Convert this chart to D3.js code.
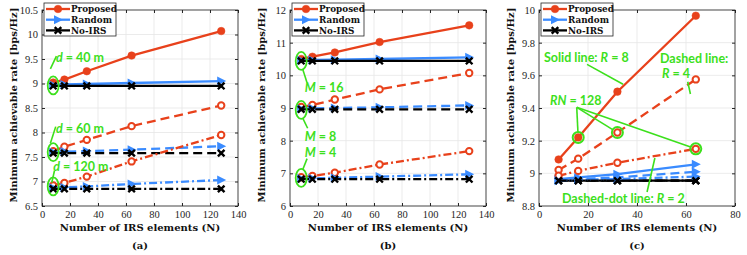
<!DOCTYPE html>
<html>
<head>
<meta charset="utf-8">
<script src="https://cdn.jsdelivr.net/npm/d3@7"></script>
<style>
  body { margin: 0; background: #fff; }
  svg { display: block; }
  .axis text { font-family: "Liberation Serif", serif; font-size: 10.5px; fill: #262626; }
  .axis path, .axis line { stroke: #262626; }
  .lbl { font-family: "DejaVu Serif", serif; font-weight: bold; font-size: 10px; fill: #111; }
  .leg { font-family: "DejaVu Serif", serif; font-weight: bold; font-size: 8.8px; fill: #111; }
  .note { font-family: Lato, sans-serif; font-weight: bold; font-size: 12.5px; fill: #3ce01c; }
</style>
</head>
<body>
<div id="chart"></div>
<script>
// ---- data ----
var nAB = [8, 16, 32, 64, 128];
var nC = [8, 16, 32, 64];

// (a) distance d
var propD40 = [9.02, 9.08, 9.25, 9.57, 10.07];
var randD40 = [8.97, 8.98, 8.99, 9.01, 9.05];
var noD40 = [8.95, 8.95, 8.95, 8.95, 8.95];
var propD60 = [7.62, 7.71, 7.85, 8.13, 8.55];
var randD60 = [7.60, 7.61, 7.62, 7.65, 7.72];
var noD60 = [7.58, 7.58, 7.58, 7.58, 7.58];
var propD120 = [6.92, 6.97, 7.10, 7.41, 7.95];
var randD120 = [6.87, 6.88, 6.90, 6.95, 7.03];
var noD120 = [6.85, 6.85, 6.85, 6.85, 6.85];

// (b) antennas M
var propM16 = [10.50, 10.57, 10.70, 11.02, 11.53];
var randM16 = [10.46, 10.47, 10.48, 10.50, 10.55];
var noM16 = [10.44, 10.44, 10.44, 10.44, 10.44];
var propM8 = [9.03, 9.09, 9.26, 9.57, 10.07];
var randM8 = [8.98, 8.99, 9.00, 9.02, 9.08];
var noM8 = [8.96, 8.96, 8.96, 8.96, 8.96];
var propM4 = [6.88, 6.92, 7.02, 7.27, 7.68];
var randM4 = [6.84, 6.85, 6.86, 6.90, 6.97];
var noM4 = [6.82, 6.82, 6.82, 6.82, 6.82];

// (c) R
var propR8 = [9.085, 9.22, 9.50, 9.965];
var propR4 = [9.02, 9.09, 9.25, 9.575];
var propR2 = [8.985, 9.015, 9.065, 9.15];
var randR8 = [8.965, 8.975, 8.995, 9.055];
var randR4 = [8.96, 8.965, 8.975, 9.01];
var randR2 = [8.955, 8.96, 8.965, 8.98];
var noR = [8.955, 8.955, 8.955, 8.955];

var xTicksAB = [0, 20, 40, 60, 80, 100, 120, 140];
var xTicksC = [0, 20, 40, 60, 80];
var yTicksA = [6.5, 7, 7.5, 8, 8.5, 9, 9.5, 10, 10.5];
var yTicksB = [6, 7, 8, 9, 10, 11, 12];
var yTicksC = [8.8, 9, 9.2, 9.4, 9.6, 9.8, 10];

var legendNames = ["Proposed", "Random", "No-IRS"];

(function() {
  var red = "#e8411b", blue = "#3a8bff", green = "#3ce01c";
  var dashed = "9,5", dashdot = "8,3,2,3";

  var marginTop = 10, h = 196, w = 196;

  var svg = d3.select("#chart").append("svg")
    .attr("width", 747).attr("height", 255);

  function groups(p, r, n, dash, open) {
    return { p: p, r: r, n: n, dash: dash, open: open };
  }

  var panels = [
    { left: 42, xs: nAB, xDomain: [0, 140], yDomain: [6.5, 10.5], xTicks: xTicksAB, yTicks: yTicksA, tag: "(a)",
      groups: [groups(propD40, randD40, noD40, null, false), groups(propD60, randD60, noD60, dashed, true), groups(propD120, randD120, noD120, dashdot, true)],
      ellipses: [[8, 8.96], [8, 7.6], [8, 6.9]],
      leaders: [[6, 9.3, 10.3, 9.56], [6, 7.78, 9.8, 8.12], [7, 6.98, 8.9, 7.22]],
      texts: [[10, 9.44, [["d", 1], [" = 40 m", 0]]], [10, 8.0, [["d", 1], [" = 60 m", 0]]], [8, 7.22, [["d", 1], [" = 120 m", 0]]]],
      rings: [] },
    { left: 290, xs: nAB, xDomain: [0, 140], yDomain: [6, 12], xTicks: xTicksAB, yTicks: yTicksB, tag: "(b)",
      groups: [groups(propM16, randM16, noM16, null, false), groups(propM8, randM8, noM8, dashed, true), groups(propM4, randM4, noM4, dashdot, true)],
      ellipses: [[8, 10.44], [8, 8.94], [8, 6.86]],
      leaders: [[9, 10.2, 12.1, 9.78], [9, 8.7, 12.6, 8.38], [9, 7.1, 12.2, 7.45]],
      texts: [[10.5, 9.5, [["M", 1], [" = 16", 0]]], [10.5, 8.0, [["M", 1], [" = 8", 0]]], [10.5, 7.5, [["M", 1], [" = 4", 0]]]],
      rings: [] },
    { left: 539, xs: nC, xDomain: [0, 80], yDomain: [8.8, 10], xTicks: xTicksC, yTicks: yTicksC, tag: "(c)",
      groups: [groups(propR8, randR8, noR, null, false), groups(propR4, randR4, noR, dashed, true), groups(propR2, randR2, noR, dashdot, true)],
      ellipses: [],
      leaders: [[19.6, 9.667, 34.3, 9.545], [60.7, 9.561, 61.8, 9.486], [44.1, 8.886, 47.3, 9.094]],
      texts: [[2, 9.68, [["Solid line: ", 0], ["R", 1], [" = 8", 0]]], [49.4, 9.675, [["Dashed line:", 0]]],
              [50.2, 9.584, [["R", 1], [" = 4", 0]]], [4.5, 9.418, [["RN", 1], [" = 128", 0]]],
              [9.4, 8.818, [["Dashed-dot line: ", 0], ["R", 1], [" = 2", 0]]]],
      hub: [15.4, 9.404],
      rings: [[16, propR8[1]], [32, propR4[2]], [64, propR2[3]]] }
  ];

  panels.forEach(drawPanel);

  function drawPanel(opt) {
    var g = svg.append("g").attr("transform", "translate(" + opt.left + "," + marginTop + ")");
    var x = d3.scaleLinear().domain(opt.xDomain).range([0, w]);
    var y = d3.scaleLinear().domain(opt.yDomain).range([h, 0]);

    // grid
    g.append("g").selectAll("line").data(opt.xTicks).join("line")
      .attr("x1", d => x(d)).attr("x2", d => x(d)).attr("y1", 0).attr("y2", h)
      .attr("stroke", "#e6e6e6").attr("stroke-width", 0.8);
    g.append("g").selectAll("line").data(opt.yTicks).join("line")
      .attr("y1", d => y(d)).attr("y2", d => y(d)).attr("x1", 0).attr("x2", w)
      .attr("stroke", "#e6e6e6").attr("stroke-width", 0.8);

    // axes, ticks inward like matlab
    g.append("g").attr("class", "axis").attr("transform", "translate(0," + h + ")")
      .call(d3.axisBottom(x).tickValues(opt.xTicks).tickSizeInner(-3).tickSizeOuter(0).tickPadding(5));
    g.append("g").attr("class", "axis")
      .call(d3.axisLeft(y).tickValues(opt.yTicks).tickSizeInner(-3).tickSizeOuter(0).tickPadding(4).tickFormat(d3.format("")));
    g.append("g").attr("class", "axis")
      .call(d3.axisTop(x).tickValues(opt.xTicks).tickSizeInner(-3).tickSizeOuter(0).tickFormat(""));
    g.append("g").attr("class", "axis").attr("transform", "translate(" + w + ",0)")
      .call(d3.axisRight(y).tickValues(opt.yTicks).tickSizeInner(-3).tickSizeOuter(0).tickFormat(""));
    g.selectAll(".axis path.domain").remove();
    g.append("rect").attr("width", w).attr("height", h)
      .attr("fill", "none").attr("stroke", "#262626").attr("stroke-width", 0.8);

    var line = d3.line().x(d => x(d[0])).y(d => y(d[1]));

    opt.groups.forEach(function(gr) {
      var sets = [
        { v: gr.p, c: red, m: "circle" },
        { v: gr.r, c: blue, m: "tri" },
        { v: gr.n, c: "#000", m: "star" }
      ];
      sets.forEach(function(s) {
        var pts = opt.xs.map((n, i) => [n, s.v[i]]);
        g.append("path").datum(pts).attr("d", line)
          .attr("fill", "none").attr("stroke", s.c).attr("stroke-width", 2.3)
          .attr("stroke-dasharray", gr.dash);
        drawMarkers(g, pts.map(p => [x(p[0]), y(p[1])]), s.m, s.c, gr.open);
      });
    });

    // legend
    var lg = g.append("g").attr("transform", "translate(2,-7)");
    lg.append("rect").attr("width", 72).attr("height", 33)
      .attr("fill", "#fff").attr("stroke", "#262626").attr("stroke-width", 0.8);
    var legC = [red, blue, "#000"], legM = ["circle", "tri", "star"];
    legendNames.forEach(function(name, i) {
      var ly = 6 + i * 10.7;
      lg.append("line").attr("x1", 2).attr("x2", 26).attr("y1", ly).attr("y2", ly)
        .attr("stroke", legC[i]).attr("stroke-width", 2.3);
      drawMarkers(lg, [[14, ly]], legM[i], legC[i], false);
      lg.append("text").attr("class", "leg").attr("x", 27).attr("y", ly + 3.2).text(name);
    });

    // annotations
    g.append("g").selectAll("ellipse").data(opt.ellipses).join("ellipse")
      .attr("cx", d => x(d[0])).attr("cy", d => y(d[1])).attr("rx", 5.5).attr("ry", 9)
      .attr("fill", "none").attr("stroke", green).attr("stroke-width", 1.8);
    g.append("g").selectAll("line").data(opt.leaders).join("line")
      .attr("x1", d => x(d[0])).attr("y1", d => y(d[1])).attr("x2", d => x(d[2])).attr("y2", d => y(d[3]))
      .attr("stroke", green).attr("stroke-width", 1.6);
    if (opt.hub) {
      var hx = x(opt.hub[0]), hy = y(opt.hub[1]);
      opt.rings.forEach(function(r) {
        var rx = x(r[0]), ry = y(r[1]);
        var dx = rx - hx, dy = ry - hy, L = Math.sqrt(dx * dx + dy * dy);
        g.append("line").attr("x1", hx).attr("y1", hy)
          .attr("x2", rx - dx / L * 5.5).attr("y2", ry - dy / L * 5.5)
          .attr("stroke", green).attr("stroke-width", 1.6);
      });
    }
    g.append("g").selectAll("circle").data(opt.rings).join("circle")
      .attr("cx", d => x(d[0])).attr("cy", d => y(d[1])).attr("r", 5.5)
      .attr("fill", "none").attr("stroke", green).attr("stroke-width", 2);
    opt.texts.forEach(function(t) {
      var tx = g.append("text").attr("class", "note").attr("x", x(t[0])).attr("y", y(t[1]));
      t[2].forEach(function(part) {
        tx.append("tspan").attr("font-style", part[1] ? "italic" : null).text(part[0]);
      });
    });

    // labels
    g.append("text").attr("class", "lbl").attr("text-anchor", "middle")
      .attr("x", w / 2).attr("y", h + 25).text("Number of IRS elements (N)");
    g.append("text").attr("class", "lbl").attr("text-anchor", "middle")
      .attr("x", w / 2).attr("y", h + 43).text(opt.tag);
    g.append("text").attr("class", "lbl").attr("text-anchor", "middle")
      .attr("transform", "translate(-25," + (h / 2 - 3) + ") rotate(-90)")
      .text("Minimum achievable rate [bps/Hz]");
  }

  function drawMarkers(g, pts, kind, color, open) {
    var sel = g.append("g").selectAll("g").data(pts).join("g")
      .attr("transform", d => "translate(" + d[0] + "," + d[1] + ")");
    if (kind === "circle") {
      sel.append("circle").attr("r", open ? 3.2 : 3.8)
        .attr("fill", open ? "#fff" : color).attr("stroke", color).attr("stroke-width", open ? 2 : 0.5);
    } else if (kind === "tri") {
      sel.append("path").attr("d", "M-4,-4.5L5,0L-4,4.5Z").attr("fill", color);
    } else {
      sel.append("path").attr("d", d3.symbol(d3.symbolTimes, 30)())
        .attr("stroke", color).attr("stroke-width", 2.4).attr("fill", "none");
      sel.append("circle").attr("r", 1.6).attr("fill", color);
    }
  }
})();
</script>
</body>
</html>
